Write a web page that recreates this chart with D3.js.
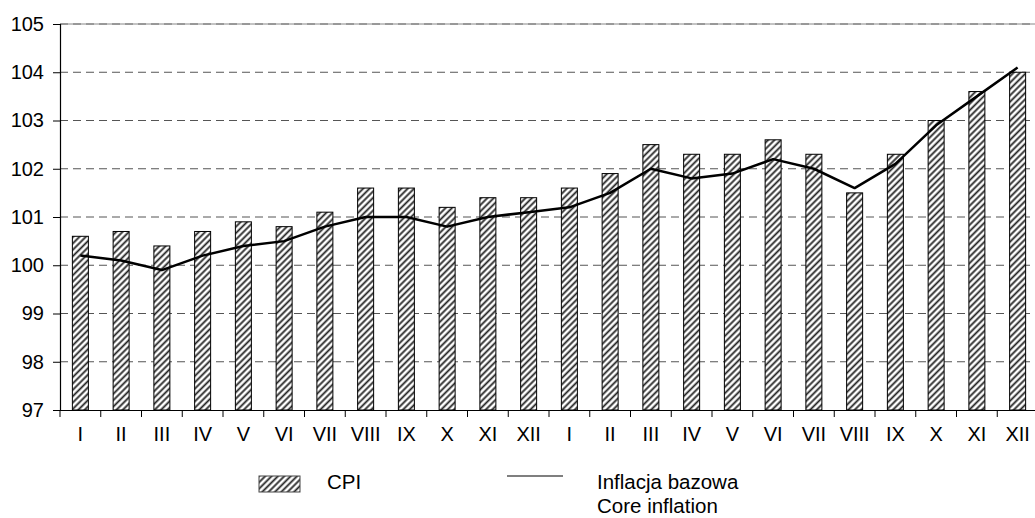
<!DOCTYPE html>
<html>
<head>
<meta charset="utf-8">
<script src="https://cdn.jsdelivr.net/npm/d3@7"></script>
<style>
body { margin: 0; background: #fff; }
svg { display: block; font-family: Arial, "Liberation Sans", sans-serif; }
</style>
</head>
<body>
<div id="chart"></div>
<script>
// month labels, two years
var months = ["I","II","III","IV","V","VI","VII","VIII","IX","X","XI","XII",
              "I","II","III","IV","V","VI","VII","VIII","IX","X","XI","XII"];
var cpi = [100.6,100.7,100.4,100.7,100.9,100.8,101.1,101.6,101.6,101.2,101.4,101.4,
           101.6,101.9,102.5,102.3,102.3,102.6,102.3,101.5,102.3,103.0,103.6,104.0];
var core = [100.2,100.1,99.9,100.2,100.4,100.5,100.8,101.0,101.0,100.8,101.0,101.1,
            101.2,101.5,102.0,101.8,101.9,102.2,102.0,101.6,102.1,102.9,103.5,104.1];
var yTicks = [97,98,99,100,101,102,103,104,105];

var W = 1035, H = 518;
var margin = {top: 24, left: 60},
    plotW = 978, plotH = 386;

var svg = d3.select("#chart").append("svg")
  .attr("width", W).attr("height", H);

// hatch pattern
var defs = svg.append("defs");
var pat = defs.append("pattern")
  .attr("id", "hatch")
  .attr("patternUnits", "userSpaceOnUse")
  .attr("width", 4.5).attr("height", 4.5)
  .attr("patternTransform", "rotate(45)");
pat.append("rect").attr("width", 4.5).attr("height", 4.5).attr("fill", "#fff");
pat.append("line")
  .attr("x1", 2.25).attr("y1", 0).attr("x2", 2.25).attr("y2", 4.5)
  .attr("stroke", "#222").attr("stroke-width", 1.8);

var g = svg.append("g")
  .attr("transform", "translate(" + margin.left + "," + margin.top + ")");

var x = d3.scaleBand()
  .domain(d3.range(months.length))
  .range([0, plotW]);

var y = d3.scaleLinear()
  .domain([97, 105])
  .range([plotH, 0]);

// grid lines
g.selectAll(".grid")
  .data(yTicks.filter(function(d){ return d > 97; }))
  .enter().append("line")
  .attr("x1", 0).attr("x2", plotW)
  .attr("y1", function(d){ return y(d); })
  .attr("y2", function(d){ return y(d); })
  .attr("stroke", "#555")
  .attr("stroke-width", 1)
  .attr("stroke-dasharray", "8,5");
// top line looks solid-ish
g.append("line")
  .attr("x1", 0).attr("x2", plotW)
  .attr("y1", y(105)).attr("y2", y(105))
  .attr("stroke", "#888").attr("stroke-width", 1);

// bars
var bw = 16;
g.selectAll(".bar")
  .data(cpi)
  .enter().append("rect")
  .attr("class", "bar")
  .attr("x", function(d, i){ return x(i) + x.bandwidth()/2 - bw/2; })
  .attr("y", function(d){ return y(d); })
  .attr("width", bw)
  .attr("height", function(d){ return plotH - y(d); })
  .attr("fill", "url(#hatch)")
  .attr("stroke", "#000")
  .attr("stroke-width", 1);

// core inflation line
var line = d3.line()
  .x(function(d, i){ return x(i) + x.bandwidth()/2; })
  .y(function(d){ return y(d); });
g.append("path")
  .datum(core)
  .attr("d", line)
  .attr("fill", "none")
  .attr("stroke", "#000")
  .attr("stroke-width", 2.5)
  .attr("stroke-linejoin", "round");

// y axis
var yAxis = g.append("g")
  .call(d3.axisLeft(y).tickValues(yTicks).tickSize(7).tickPadding(9).tickFormat(d3.format("d")));
yAxis.select(".domain").attr("stroke", "#000").attr("stroke-width", 1.2);
yAxis.selectAll("text").style("font-size", "20px").attr("fill", "#000");

// x axis
var xAxis = g.append("g")
  .attr("transform", "translate(0," + plotH + ")")
  .call(d3.axisBottom(x).tickSize(0).tickPadding(27).tickFormat(function(i){ return months[i]; }));
xAxis.select(".domain").attr("stroke", "#000").attr("stroke-width", 1.2);
xAxis.selectAll("text").style("font-size", "20px").attr("fill", "#000").attr("dy", "0.2em");
// tick marks at band boundaries
g.selectAll(".xtick")
  .data(d3.range(months.length))
  .enter().append("line")
  .attr("x1", function(i){ return x(i); })
  .attr("x2", function(i){ return x(i); })
  .attr("y1", plotH).attr("y2", plotH + 7)
  .attr("stroke", "#000");

// legend
var leg = svg.append("g");
leg.append("rect")
  .attr("x", 259).attr("y", 476).attr("width", 41).attr("height", 16)
  .attr("fill", "url(#hatch)").attr("stroke", "#444");
leg.append("text")
  .attr("x", 327).attr("y", 489)
  .style("font-size", "20.5px").text("CPI");
leg.append("line")
  .attr("x1", 507).attr("x2", 563).attr("y1", 476).attr("y2", 476)
  .attr("stroke", "#000").attr("stroke-width", 1.2);
leg.append("text")
  .attr("x", 597).attr("y", 489)
  .style("font-size", "20.5px").text("Inflacja bazowa");
leg.append("text")
  .attr("x", 597).attr("y", 513)
  .style("font-size", "20.5px").text("Core inflation");
</script>
</body>
</html>
